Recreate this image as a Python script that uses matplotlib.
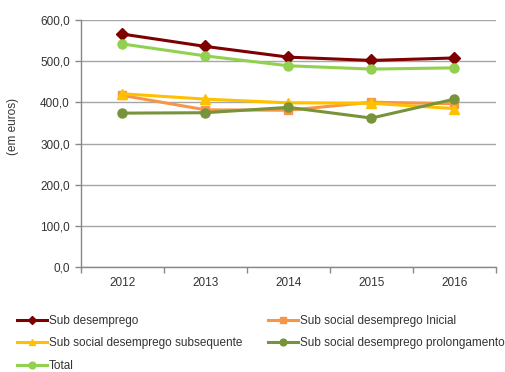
import matplotlib
matplotlib.use("Agg")
import matplotlib.pyplot as plt
import numpy as np

plt.rcParams['font.family'] = ['Liberation Sans', 'DejaVu Sans']

years = ['2012', '2013', '2014', '2015', '2016']
sub_desemprego = [566.0, 536.0, 510.0, 502.0, 508.0]
sub_inicial = [417.0, 382.0, 381.0, 400.5, 397.0]
sub_subsequente = [421.0, 408.0, 399.0, 398.0, 385.0]
sub_prolongamento = [374.0, 375.0, 388.0, 362.0, 408.0]
total = [542.0, 513.0, 489.0, 481.0, 484.0]

series = [
    ('Sub desemprego', sub_desemprego, '#7F0000', 'D', 6.0),
    ('Sub social desemprego Inicial', sub_inicial, '#F79646', 's', 6.0),
    ('Sub social desemprego subsequente', sub_subsequente, '#FFC000', '^', 6.5),
    ('Sub social desemprego prolongamento', sub_prolongamento, '#77933C', 'o', 6.5),
    ('Total', total, '#92D050', 'o', 6.5),
]

FS = 8.5
TXT = '#333333'

fig = plt.figure(figsize=(5.06, 3.72), dpi=100)
ax = fig.add_axes([0.160, 0.282, 0.820, 0.664])

x = np.arange(len(years))
handles = {}
for name, vals, color, mk, ms in series:
    h, = ax.plot(x, vals, color=color, marker=mk, markersize=ms, linewidth=2.2,
                 label=name)
    handles[name] = h

ax.set_xlim(-0.5, len(years) - 0.5)
ax.set_ylim(0, 600)
yt = np.arange(0, 601, 100)
ax.set_yticks(yt)
ax.set_yticklabels([f"{v:.1f}".replace('.', ',') for v in yt])
ax.set_xticks(x)
ax.set_xticklabels(years)
ax.set_xticks(np.arange(-0.5, len(years)), minor=True)
ax.tick_params(axis='x', which='major', length=0, pad=7, labelsize=FS, labelcolor=TXT)
ax.tick_params(axis='x', which='minor', length=4, color='#888888', width=1)
ax.tick_params(axis='y', length=4, color='#888888', width=1, labelsize=FS,
               labelcolor=TXT, pad=4)

ax.grid(axis='y', color='#A6A6A6', linewidth=1.0)
ax.set_axisbelow(True)
for s in ['top', 'right']:
    ax.spines[s].set_visible(False)
for s in ['left', 'bottom']:
    ax.spines[s].set_color('#888888')
    ax.spines[s].set_linewidth(1.0)

ax.set_ylabel('(em euros)', fontsize=FS, color=TXT)
ax.yaxis.set_label_coords(-0.149, 0.571)

order = ['Sub desemprego', 'Sub social desemprego subsequente', 'Total',
         'Sub social desemprego Inicial', 'Sub social desemprego prolongamento']
leg = fig.legend([handles[n] for n in order], order, loc='upper left',
                 bbox_to_anchor=(0.034, 0.153), ncol=2, frameon=False,
                 fontsize=FS, handlelength=2.5, handletextpad=0.2,
                 columnspacing=2.2, labelspacing=0.88, borderaxespad=0,
                 borderpad=0, markerscale=0.75)
for t in leg.get_texts():
    t.set_color(TXT)

fig.savefig('out.png', dpi=100)
